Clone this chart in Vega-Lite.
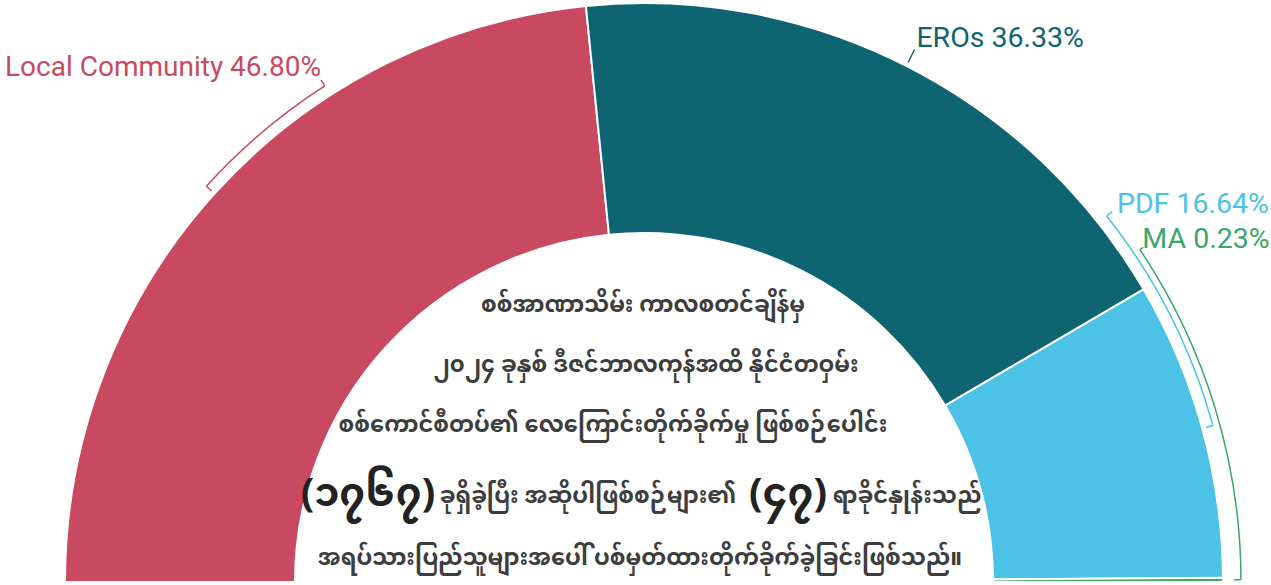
{
  "$schema": "https://vega.github.io/schema/vega-lite/v6.json",
  "width": 1271,
  "height": 585,
  "padding": 0,
  "autosize": {"type": "none"},
  "background": "white",
  "config": {"view": {"stroke": null}},
  "datasets": {
    "seg": [
      {"name": "Local Community", "value": 46.80, "idx": 1},
      {"name": "EROs", "value": 36.33, "idx": 2},
      {"name": "PDF", "value": 16.64, "idx": 3},
      {"name": "MA", "value": 0.23, "idx": 4}
    ],
    "brk": [
      {"name": "Local Community", "b0": 23.40, "b1": 31.8, "label": "Local Community 46.80%", "lp": 31.9},
      {"name": "EROs", "b0": 64.965, "b1": 64.965, "label": "EROs 36.33%", "lp": 65.0},
      {"name": "PDF", "b0": 91.45, "b1": 78.7, "label": "PDF 16.64%", "lp": 78.9},
      {"name": "MA", "b0": 99.885, "b1": 81.2, "label": "MA 0.23%", "lp": 81.2}
    ],
    "notes": [
      {"k": 1, "t": "စစ်အာဏာသိမ်း ကာလစတင်ချိန်မှ"},
      {"k": 2, "t": "၂၀၂၄ ခုနှစ် ဒီဇင်ဘာလကုန်အထိ နိုင်ငံတဝှမ်း"},
      {"k": 3, "t": "စစ်ကောင်စီတပ်၏ လေကြောင်းတိုက်ခိုက်မှု ဖြစ်စဉ်ပေါင်း"},
      {"k": 41, "t": "(၁၇၆၇)"},
      {"k": 42, "t": "ခုရှိခဲ့ပြီး အဆိုပါဖြစ်စဉ်များ၏"},
      {"k": 43, "t": "(၄၇)"},
      {"k": 44, "t": "ရာခိုင်နှုန်းသည်"},
      {"k": 5, "t": "အရပ်သားပြည်သူများအပေါ် ပစ်မှတ်ထားတိုက်ခိုက်ခဲ့ခြင်းဖြစ်သည်။"}
    ]
  },
  "resolve": {"scale": {"color": "shared", "theta": "shared"}},
  "layer": [
    {
      "data": {"name": "seg"},
      "mark": {"type": "arc", "x": 644, "y": 582, "outerRadius": 579, "innerRadius": 349, "stroke": "white", "strokeWidth": 2},
      "encoding": {
        "theta": {"field": "value", "type": "quantitative", "stack": true, "scale": {"domain": [0, 100], "range": [-1.5707963, 1.5707963], "nice": false}},
        "order": {"field": "idx", "type": "quantitative"},
        "color": {"field": "name", "type": "nominal", "legend": null,
          "scale": {"domain": ["Local Community", "EROs", "PDF", "MA"], "range": ["#c94a60", "#0e6571", "#4cc2e7", "#3aa66a"]}}
      }
    },
    {
      "data": {"name": "brk"},
      "transform": [{"filter": "datum.name == 'Local Community' || datum.name == 'PDF'"}],
      "mark": {"type": "arc", "x": 644, "y": 582, "outerRadius": 590, "innerRadius": 590, "filled": false, "strokeWidth": 1.5},
      "encoding": {
        "theta": {"field": "b0", "type": "quantitative", "stack": null},
        "theta2": {"field": "b1"},
        "color": {"field": "name", "type": "nominal", "legend": null}
      }
    },
    {
      "data": {"name": "brk"},
      "transform": [{"filter": "datum.name != 'MA'"}],
      "mark": {"type": "arc", "x": 644, "y": 582, "outerRadius": 590, "innerRadius": 583, "filled": false, "strokeWidth": 1.5},
      "encoding": {
        "theta": {"field": "b0", "type": "quantitative", "stack": null},
        "theta2": {"field": "b0"},
        "color": {"field": "name", "type": "nominal", "legend": null}
      }
    },
    {
      "data": {"name": "brk"},
      "transform": [{"filter": "datum.name != 'MA'"}],
      "mark": {"type": "arc", "x": 644, "y": 582, "outerRadius": 597, "innerRadius": 590, "filled": false, "strokeWidth": 1.5},
      "encoding": {
        "theta": {"field": "b1", "type": "quantitative", "stack": null},
        "theta2": {"field": "b1"},
        "color": {"field": "name", "type": "nominal", "legend": null}
      }
    },
    {
      "data": {"name": "brk"},
      "transform": [{"filter": "datum.name == 'MA'"}],
      "mark": {"type": "arc", "x": 644, "y": 582, "outerRadius": 597, "innerRadius": 597, "filled": false, "strokeWidth": 1.5},
      "encoding": {
        "theta": {"field": "b0", "type": "quantitative", "stack": null},
        "theta2": {"field": "b1"},
        "color": {"field": "name", "type": "nominal", "legend": null}
      }
    },
    {
      "data": {"name": "brk"},
      "transform": [{"filter": "datum.name == 'MA'"}],
      "mark": {"type": "arc", "x": 644, "y": 582, "outerRadius": 597, "innerRadius": 590, "filled": false, "strokeWidth": 1.5},
      "encoding": {
        "theta": {"field": "b0", "type": "quantitative", "stack": null},
        "theta2": {"field": "b0"},
        "color": {"field": "name", "type": "nominal", "legend": null}
      }
    },
    {
      "data": {"name": "brk"},
      "transform": [{"filter": "datum.name == 'MA'"}],
      "mark": {"type": "arc", "x": 644, "y": 582, "outerRadius": 601, "innerRadius": 597, "filled": false, "strokeWidth": 1.5},
      "encoding": {
        "theta": {"field": "b1", "type": "quantitative", "stack": null},
        "theta2": {"field": "b1"},
        "color": {"field": "name", "type": "nominal", "legend": null}
      }
    },
    {
      "data": {"name": "brk"},
      "transform": [{"filter": "datum.name == 'Local Community'"}],
      "mark": {"type": "text", "x": 644, "y": 582, "radius": 600, "align": "right", "baseline": "alphabetic", "font": "Roboto", "fontSize": 28},
      "encoding": {
        "theta": {"field": "lp", "type": "quantitative", "stack": null},
        "text": {"field": "label"},
        "color": {"field": "name", "type": "nominal", "legend": null}
      }
    },
    {
      "data": {"name": "brk"},
      "transform": [{"filter": "datum.name != 'Local Community'"}],
      "mark": {"type": "text", "x": 644, "y": 582, "radius": 600, "align": "left", "baseline": "alphabetic", "font": "Roboto", "fontSize": 28.5},
      "encoding": {
        "theta": {"field": "lp", "type": "quantitative", "stack": null},
        "text": {"field": "label"},
        "color": {"field": "name", "type": "nominal", "legend": null}
      }
    },
    {
      "data": {"name": "notes"},
      "transform": [{"filter": "datum.k == 1"}],
      "mark": {"type": "text", "x": 643, "y": 305, "align": "center", "baseline": "middle", "font": "Noto Sans Myanmar", "fontWeight": "bold", "fontSize": 22.5, "color": "#3d3d3d"},
      "encoding": {"text": {"field": "t"}}
    },
    {
      "data": {"name": "notes"},
      "transform": [{"filter": "datum.k == 2"}],
      "mark": {"type": "text", "x": 646, "y": 365, "align": "center", "baseline": "middle", "font": "Noto Sans Myanmar", "fontWeight": "bold", "fontSize": 22.5, "color": "#3d3d3d"},
      "encoding": {"text": {"field": "t"}}
    },
    {
      "data": {"name": "notes"},
      "transform": [{"filter": "datum.k == 3"}],
      "mark": {"type": "text", "x": 613, "y": 425, "align": "center", "baseline": "middle", "font": "Noto Sans Myanmar", "fontWeight": "bold", "fontSize": 22.5, "color": "#3d3d3d"},
      "encoding": {"text": {"field": "t"}}
    },
    {
      "data": {"name": "notes"},
      "transform": [{"filter": "datum.k == 41"}],
      "mark": {"type": "text", "x": 368, "y": 494, "align": "center", "baseline": "middle", "font": "Noto Sans Myanmar", "fontWeight": "bold", "fontSize": 40, "color": "#222222"},
      "encoding": {"text": {"field": "t"}}
    },
    {
      "data": {"name": "notes"},
      "transform": [{"filter": "datum.k == 42"}],
      "mark": {"type": "text", "x": 588, "y": 496, "align": "center", "baseline": "middle", "font": "Noto Sans Myanmar", "fontWeight": "bold", "fontSize": 22.5, "color": "#3d3d3d"},
      "encoding": {"text": {"field": "t"}}
    },
    {
      "data": {"name": "notes"},
      "transform": [{"filter": "datum.k == 43"}],
      "mark": {"type": "text", "x": 788, "y": 494, "align": "center", "baseline": "middle", "font": "Noto Sans Myanmar", "fontWeight": "bold", "fontSize": 40, "color": "#222222"},
      "encoding": {"text": {"field": "t"}}
    },
    {
      "data": {"name": "notes"},
      "transform": [{"filter": "datum.k == 44"}],
      "mark": {"type": "text", "x": 907, "y": 496, "align": "center", "baseline": "middle", "font": "Noto Sans Myanmar", "fontWeight": "bold", "fontSize": 22.5, "color": "#3d3d3d"},
      "encoding": {"text": {"field": "t"}}
    },
    {
      "data": {"name": "notes"},
      "transform": [{"filter": "datum.k == 5"}],
      "mark": {"type": "text", "x": 640, "y": 558, "align": "center", "baseline": "middle", "font": "Noto Sans Myanmar", "fontWeight": "bold", "fontSize": 22.5, "color": "#3d3d3d"},
      "encoding": {"text": {"field": "t"}}
    }
  ]
}
